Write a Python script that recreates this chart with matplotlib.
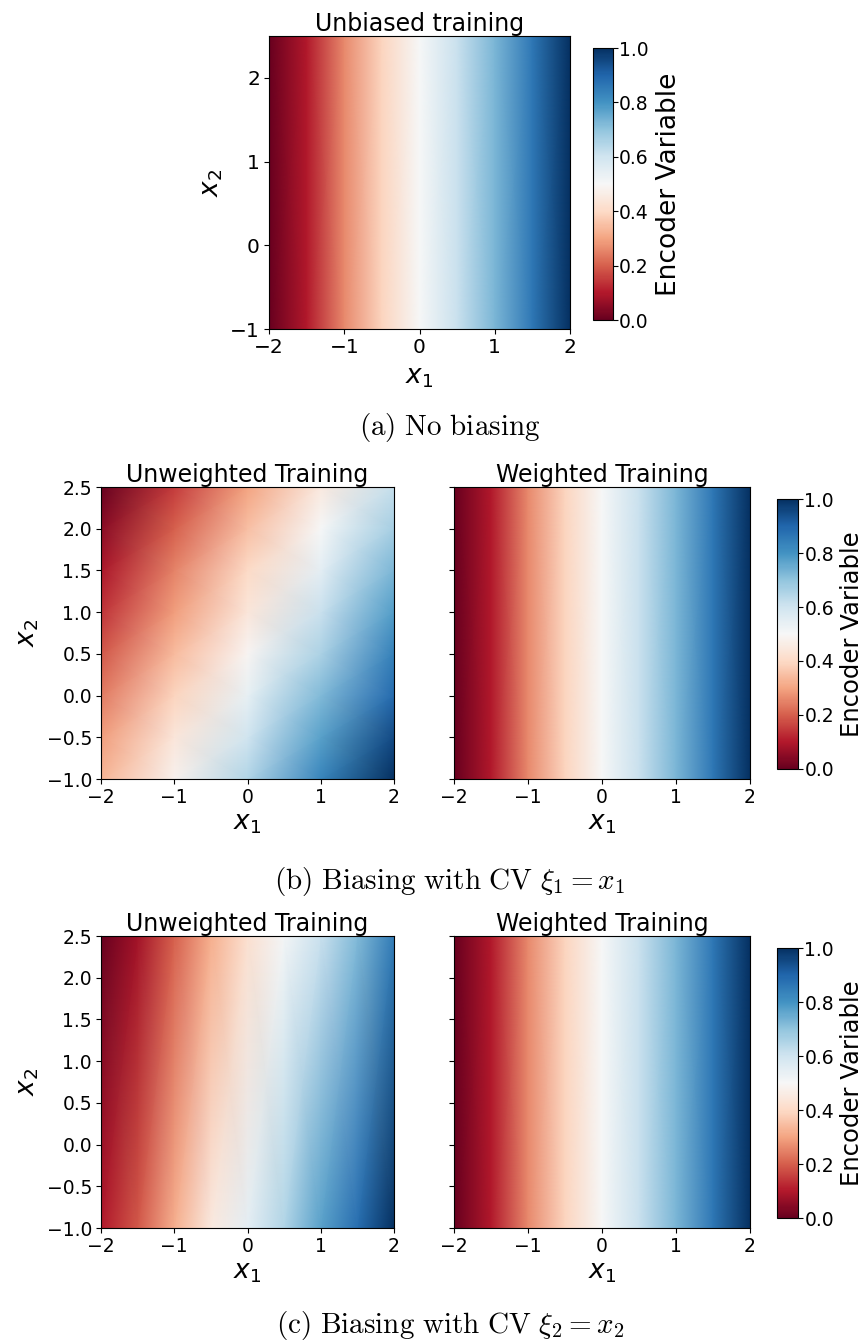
"""Encoder variable maps: unbiased vs. biased training."""

import numpy as np
import matplotlib
matplotlib.use("Agg")
import matplotlib.pyplot as plt

# grid nodes
x1_fine = [-2.0, -1.5, -1.0, -0.5, 0.0, 0.5, 1.0, 1.5, 2.0]
x1_coarse = [-2.0, -1.0, 0.0, 1.0, 2.0]
x2_ends = [-1.0, 2.5]
x2_steps = [-1.0, -0.5, 0.0, 0.5, 1.0, 1.5, 2.0, 2.5]

# (a) unbiased, and the weighted panels: depends on x1 only
enc_unbiased = [0.00, 0.10, 0.26, 0.39, 0.50, 0.61, 0.73, 0.86, 1.00]
enc_weighted_b = [0.00, 0.10, 0.26, 0.39, 0.50, 0.61, 0.73, 0.86, 1.00]
enc_weighted_c = [0.00, 0.10, 0.26, 0.39, 0.50, 0.61, 0.73, 0.86, 1.00]

# (b) unweighted, rows are x2 = -1.0 ... 2.5, columns x1 = -2 ... 2
enc_unweighted_b = [
    [0.33, 0.48, 0.65, 0.83, 1.00],
    [0.29, 0.44, 0.60, 0.77, 0.95],
    [0.24, 0.39, 0.54, 0.72, 0.89],
    [0.19, 0.34, 0.49, 0.66, 0.84],
    [0.14, 0.29, 0.44, 0.61, 0.78],
    [0.09, 0.25, 0.40, 0.55, 0.73],
    [0.05, 0.20, 0.35, 0.50, 0.67],
    [0.00, 0.15, 0.30, 0.45, 0.62],
]

# (c) unweighted, rows x2 = -1.0 and 2.5
enc_unweighted_c = [
    [0.10, 0.19, 0.32, 0.45, 0.55, 0.65, 0.77, 0.88, 1.00],
    [0.00, 0.08, 0.20, 0.32, 0.42, 0.51, 0.61, 0.72, 0.85],
]

W, H = 865, 1343
fig = plt.figure(figsize=(W / 100, H / 100), dpi=100)


def box(x0, y0, x1, y1):
    return [x0 / W, 1 - y1 / H, (x1 - x0) / W, (y1 - y0) / H]


def draw(ax, xs, ys, z, title, ylabels=True, yticks=None, tick_fs=13.5,
         xlabelpad=2):
    X, Y = np.meshgrid(xs, ys)
    m = ax.pcolormesh(X, Y, np.asarray(z), shading="gouraud",
                      cmap="RdBu", vmin=0, vmax=1)
    ax.set_xlim(-2, 2)
    ax.set_ylim(-1, 2.5)
    ax.set_xticks([-2, -1, 0, 1, 2])
    if yticks is not None:
        ax.set_yticks(yticks)
    ax.tick_params(labelsize=tick_fs, pad=3)
    ax.set_title(title, fontsize=17, pad=3)
    ax.set_xlabel("$x_1$", fontsize=19, labelpad=xlabelpad)
    if ylabels:
        ax.set_ylabel("$x_2$", fontsize=19)
    else:
        ax.tick_params(labelleft=False)
    return m


def cbar(m, rect, label_fs=17.5, labelpad=4):
    cax = fig.add_axes(rect)
    cb = fig.colorbar(m, cax=cax, ticks=[0, 0.2, 0.4, 0.6, 0.8, 1.0])
    cb.ax.tick_params(labelsize=13.5, pad=1)
    cb.set_label("Encoder Variable", fontsize=label_fs, labelpad=labelpad)
    cb.outline.set_linewidth(0.8)


def caption(y, s):
    fig.text(450 / W, 1 - y / H, s, ha="center", va="baseline",
             fontsize=21, math_fontfamily="cm")


# (a)
ax = fig.add_axes(box(269, 36, 570, 329))
m = draw(ax, x1_fine, x2_ends, [enc_unbiased, enc_unbiased],
         "Unbiased training", yticks=[-1, 0, 1, 2], tick_fs=14.5,
         xlabelpad=5)
cbar(m, box(593, 48, 613, 320), label_fs=19, labelpad=5)
caption(435, r"$\mathrm{(a)\ No\ biasing}$")

y2ticks = [-1.0, -0.5, 0.0, 0.5, 1.0, 1.5, 2.0, 2.5]

# (b)
ax = fig.add_axes(box(101, 487, 394, 779))
draw(ax, x1_coarse, x2_steps, enc_unweighted_b, "Unweighted Training",
     yticks=y2ticks)
ax = fig.add_axes(box(454, 487, 750, 779))
m = draw(ax, x1_fine, x2_ends, [enc_weighted_b, enc_weighted_b],
         "Weighted Training", ylabels=False, yticks=y2ticks)
cbar(m, box(777, 499, 798, 769))
caption(889, r"$\mathrm{(b)\ Biasing\ with\ CV\ }\xi_1 = x_1$")

# (c)
ax = fig.add_axes(box(101, 936, 394, 1228))
draw(ax, x1_fine, x2_ends, enc_unweighted_c, "Unweighted Training",
     yticks=y2ticks)
ax = fig.add_axes(box(454, 936, 750, 1228))
m = draw(ax, x1_fine, x2_ends, [enc_weighted_c, enc_weighted_c],
         "Weighted Training", ylabels=False, yticks=y2ticks)
cbar(m, box(777, 948, 798, 1218))
caption(1333, r"$\mathrm{(c)\ Biasing\ with\ CV\ }\xi_2 = x_2$")

fig.savefig("out.png", dpi=100)
plt.close(fig)
